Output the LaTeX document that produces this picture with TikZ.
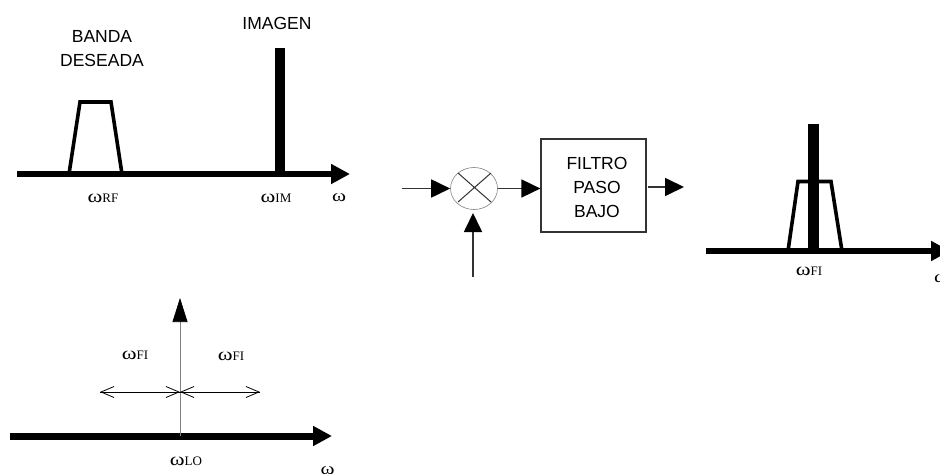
\documentclass[tikz,border=0pt]{standalone}
\usepackage{fontspec}
\setmainfont{Liberation Sans}
\newfontfamily\omegafont{Liberation Serif}
\newfontfamily\wideomega[FakeStretch=1.25]{Liberation Serif}
\usetikzlibrary{arrows.meta,shapes.geometric}
\definecolor{thinline}{HTML}{333333}
\newcommand{\wsym}{{\wideomega\fontsize{18}{18}\selectfont ω}}
\tikzset{
  x=1pt,y=-1pt,
  axisline/.style={line width=#1,-{Triangle[length=19pt,width=19pt]},black},
  axisline/.default=5.5pt,
  flowline/.style={line width=1.7pt,draw=thinline,-{Triangle[length=19pt,width=18pt,color=black]}},
  bandshape/.style={line width=3.6pt,draw=black,line join=miter},
  barline/.style={line width=10.5pt,draw=black},
  biglabel/.style={font=\fontsize{17.5}{20}\selectfont,inner sep=0pt,text=black},
  freqlabel/.style={font=\omegafont\fontsize{13}{14}\selectfont,inner sep=0pt,text=black},
  omegalabel/.style={font=\wideomega\fontsize{17}{18}\selectfont,inner sep=0pt,text=black},
  spanline/.style={line width=0.8pt,draw=black,-{Straight Barb[length=13pt,width=11pt,line width=0.8pt]}},
  mixerstyle/.style={draw=gray,line width=0.6pt,ellipse,minimum width=47pt,minimum height=42pt,inner sep=0pt},
  filterstyle/.style={draw=thinline,line width=1.2pt,minimum width=105pt,minimum height=93pt,inner sep=0pt},
  filtertext/.style={align=center,inner sep=0pt,font=\fontsize{17.5}{24}\selectfont,text=black}
}
\begin{document}
\begin{tikzpicture}
\useasboundingbox (0,0) rectangle (940,474);
% top spectrum
\coordinate (a1s) at (17,174);
\coordinate (a1e) at (350,174);
\draw[axisline] (a1s) -- (a1e);
\draw[bandshape] (69,174) -- (80,102) -- (111,102) -- (122,174);
\coordinate (im0) at (280,174);
\coordinate (im1) at (280,48);
\draw[barline] (im0) -- (im1);
\node[biglabel] (imagen) at (277,23) {IMAGEN};
\node[biglabel] (banda) at (102,36) {BANDA};
\node[biglabel] (deseada) at (102,60) {DESEADA};
\node[freqlabel] (wrf) at (103,198) {\wsym RF};
\node[freqlabel] (wim) at (276,198) {\wsym IM};
\node[omegalabel] (w1) at (339,198) {ω};
% bottom spectrum
\coordinate (a2s) at (10,436);
\coordinate (a2e) at (332,436);
\draw[axisline=7pt] (a2s) -- (a2e);
\coordinate (lo0) at (180,436);
\coordinate (lo1) at (180,298);
\coordinate (lol) at (100,392);
\coordinate (lor) at (260,392);
\coordinate (loc) at (180,392);
\draw[line width=0.6pt,draw=gray,-{Triangle[length=24pt,width=15pt,color=black]}] (lo0) -- (lo1);
\draw[spanline] (loc) -- (lol);
\draw[spanline] (loc) -- (lor);
\draw[spanline] (lol) -- (loc);
\draw[spanline] (lor) -- (loc);
\node[freqlabel] (wfi1) at (135,355) {\wsym FI};
\node[freqlabel] (wfi2) at (231,356) {\wsym FI};
\node[freqlabel] (wlo) at (186,461) {\wsym LO};
\node[omegalabel] (w2) at (327.5,471) {ω};
% mixer and filter
\node[mixerstyle] (mix) at (474,188.5) {};
\draw[line width=1pt,draw=thinline] (458,173) -- (491,202) (491,173) -- (458,202);
\node[filterstyle] (filt) at (593.5,185.5) {};
\node[filtertext] (filttxt) at (597,187) {FILTRO\\PASO\\BAJO};
\coordinate (inL) at (402,188.5);
\coordinate (inB) at (473,277);
\coordinate (outR) at (684,187);
\draw[flowline] (inL) -- (mix.west);
\draw[flowline] (mix.east) -- (mix.east -| filt.west);
\draw[flowline] (inB) -- (473,213);
\draw[flowline] (648,187) -- (outR);
% right spectrum
\coordinate (a3s) at (706,251);
\coordinate (a3e) at (950,251);
\draw[axisline] (a3s) -- (a3e);
\draw[bandshape] (788,251) -- (798,181.5) -- (831,181.5) -- (842,251);
\coordinate (fi0) at (813.5,251);
\coordinate (fi1) at (813.5,124);
\draw[barline] (fi0) -- (fi1);
\node[freqlabel] (wfi3) at (809,271) {\wsym FI};
\node[omegalabel] (w3) at (941,279) {ω};
\end{tikzpicture}
\end{document}
